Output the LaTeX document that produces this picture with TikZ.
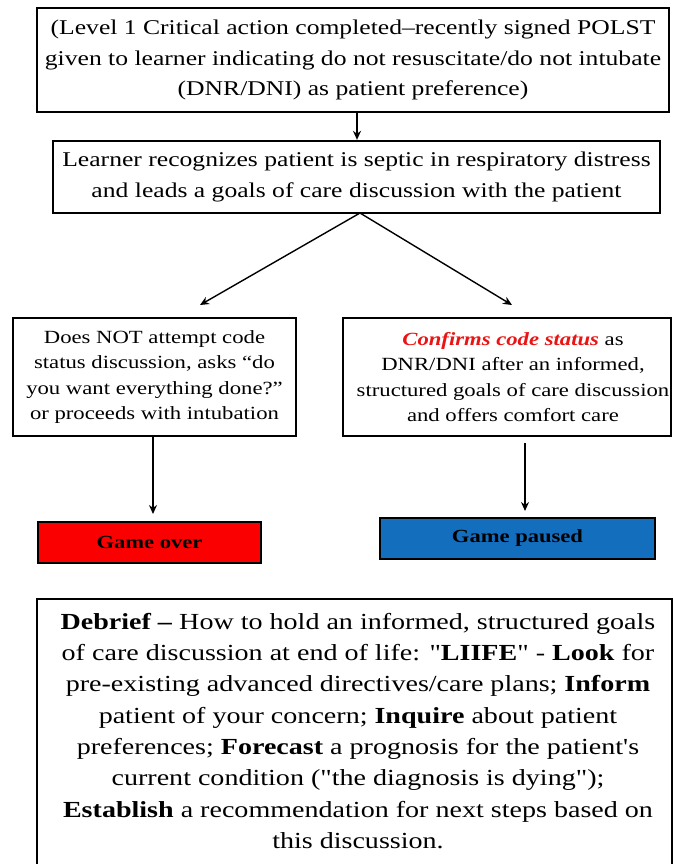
\documentclass[tikz,border=0pt]{standalone}
\usepackage{fontspec}
\setmainfont[FakeStretch=1.22, Ligatures=TeXOff]{Liberation Serif}
\usetikzlibrary{arrows.meta}
\definecolor{overred}{RGB}{250,0,0}
\definecolor{pauseblue}{RGB}{20,110,190}
\definecolor{confred}{RGB}{235,20,20}
\tikzset{
  box/.style={draw=black, line width=2.3pt, align=center, inner sep=0pt, fill=white},
  bigtext/.style={font=\fontsize{21}{30.5}\selectfont},
  smalltext/.style={font=\fontsize{18.6}{25.3}\selectfont},
  debtext/.style={font=\fontsize{23}{31.3}\selectfont},
  endbox/.style={draw=black, line width=2.3pt, inner sep=0pt, font=\fontsize{18.5}{22}\selectfont\bfseries},
  arr/.style={line width=1.4pt, -{Stealth[length=9pt,width=8pt]}}
}
\begin{document}
\begin{tikzpicture}[x=1pt,y=-1pt]
\useasboundingbox (0,0) rectangle (673,864);
\clip (0,0) rectangle (673,864);
\node[box,bigtext,minimum width=632pt,minimum height=104pt] (b1) at (353,60)
  {(Level 1 Critical action completed–recently signed POLST\\given to learner indicating do not resuscitate/do not intubate\\(DNR/DNI) as patient preference)};
\node[box,bigtext,minimum width=607pt,minimum height=72pt] (b2) at (356.5,177)
  {Learner recognizes patient is septic in respiratory distress\\and leads a goals of care discussion with the patient};
\node[box,smalltext,minimum width=283pt,minimum height=118pt] (b3) at (154.5,377)
  {Does NOT attempt code\\status discussion, asks “do\\you want everything done?”\\or proceeds with intubation};
\node[box,smalltext,minimum width=328pt,minimum height=118pt] (b4) at (507,377)
  {\hspace*{12pt}{\color{confred}\bfseries\itshape Confirms code status} as\\\hspace*{12pt}DNR/DNI after an informed,\\\hspace*{12pt}structured goals of care discussion\\\hspace*{12pt}and offers comfort care};
\node[endbox,fill=overred,minimum width=223pt,minimum height=41pt] (go) at (149.5,542.5) {Game over};
\node[endbox,fill=pauseblue,minimum width=275pt,minimum height=41pt] (gp) at (517.5,538.5) {Game paused};
\node[box,minimum width=635pt,minimum height=300pt,anchor=north] (db) at (354.5,598) {};
\node[debtext,align=center] (dbt) at (358,731)
  {\textbf{Debrief –} How to hold an informed, structured goals\\of care discussion at end of life: "\textbf{LIIFE}" - \textbf{Look} for\\pre-existing advanced directives/care plans; \textbf{Inform}\\patient of your concern; \textbf{Inquire} about patient\\preferences; \textbf{Forecast} a prognosis for the patient's\\current condition ("the diagnosis is dying");\\\textbf{Establish} a recommendation for next steps based on\\this discussion.};
\coordinate (s2) at (360,213);
\coordinate (e3) at (200,305);
\coordinate (e4) at (512,305);
\draw[arr] (b1.south -| 357,0) -- (b2.north -| 357,0);
\draw[arr] (s2) -- (e3);
\draw[arr] (s2) -- (e4);
\coordinate (a3) at (153,514);
\coordinate (a4s) at (525,443);
\coordinate (a4) at (525,511);
\draw[arr] (b3.south -| 153,0) -- (a3);
\draw[arr] (a4s) -- (a4);
\end{tikzpicture}
\end{document}
